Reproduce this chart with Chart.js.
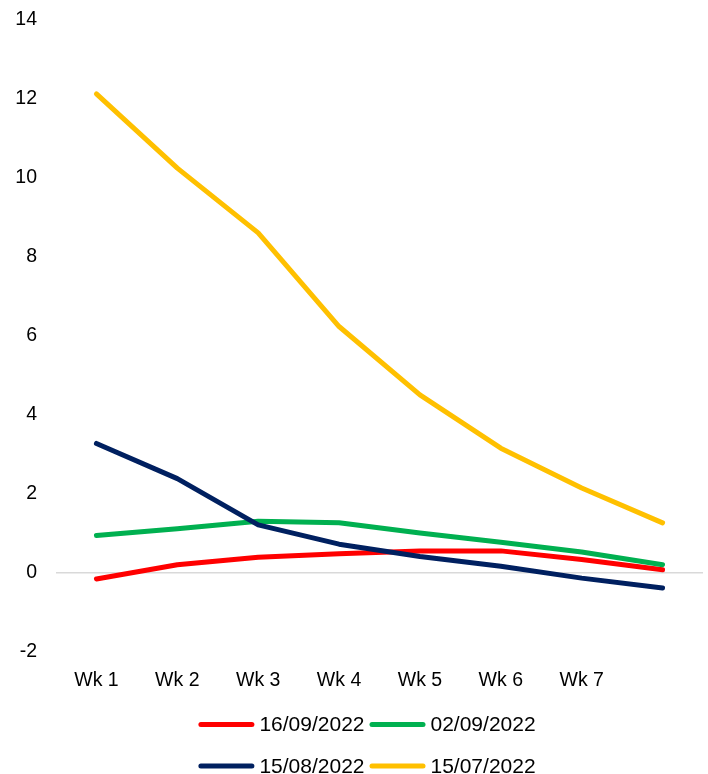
<!DOCTYPE html>
<html>
<head>
<meta charset="utf-8">
<title>Weekly profile by snapshot date</title>
<script src="https://cdn.jsdelivr.net/npm/chart.js@4/dist/chart.umd.min.js"></script>
<style>
  html, body { margin: 0; padding: 0; background: #ffffff; }
  #wrap { width: 708px; height: 774px; position: relative; }
</style>
</head>
<body>
<div id="wrap"><canvas id="chart" width="708" height="774"></canvas></div>
<script>
// Week categories (the last point has no label of its own)
const weeks = ['Wk 1', 'Wk 2', 'Wk 3', 'Wk 4', 'Wk 5', 'Wk 6', 'Wk 7', ''];

// Snapshot series
const seriesNames = ['16/09/2022', '02/09/2022', '15/08/2022', '15/07/2022'];
const sep16 = [-0.15, 0.21, 0.40, 0.49, 0.56, 0.56, 0.34, 0.08];
const sep02 = [0.95, 1.12, 1.31, 1.27, 1.01, 0.78, 0.53, 0.21];
const aug15 = [3.28, 2.39, 1.22, 0.73, 0.42, 0.17, -0.13, -0.38];
const jul15 = [12.13, 10.25, 8.61, 6.24, 4.51, 3.16, 2.15, 1.27];

// Y axis range and tick step
const yMin = -2;
const yMax = 14;
const yStep = 2;

const seriesColors = ['#FF0000', '#00B050', '#002060', '#FFC000'];
const seriesValues = [sep16, sep02, aug15, jul15];

const FONT = '"Liberation Sans", Arial, sans-serif';

// Legend drawn in two rows of two entries, line swatch then label
const twoRowLegend = {
  id: 'twoRowLegend',
  afterDraw(chart) {
    const ctx = chart.ctx;
    const ds = chart.data.datasets;
    const lineLen = 56, gap = 5, colGap = 5, rowY = [724.5, 766];
    const centerX = 367;
    ctx.save();
    ctx.font = '21px ' + FONT;
    ctx.textBaseline = 'middle';
    ctx.textAlign = 'left';
    const textW = ds.map(d => ctx.measureText(d.label).width);
    const colW = [Math.max(textW[0], textW[2]), Math.max(textW[1], textW[3])]
      .map(w => lineLen + gap + w);
    const total = colW[0] + colW[1] + colGap;
    const x0 = centerX - total / 2;
    const colX = [x0, x0 + colW[0] + colGap];
    ds.forEach((d, i) => {
      const x = colX[i % 2];
      const y = rowY[Math.floor(i / 2)];
      ctx.strokeStyle = d.borderColor;
      ctx.lineWidth = 5;
      ctx.lineCap = 'round';
      ctx.beginPath();
      ctx.moveTo(x + 2.5, y);
      ctx.lineTo(x + lineLen - 2.5, y);
      ctx.stroke();
      ctx.fillStyle = '#000000';
      ctx.fillText(d.label, x + lineLen + gap, y + 1);
    });
    ctx.restore();
  }
};

const datasets = seriesNames.map((name, i) => ({
  label: name,
  data: seriesValues[i],
  borderColor: seriesColors[i],
  backgroundColor: seriesColors[i],
  borderWidth: 5,
  borderCapStyle: 'round',
  borderJoinStyle: 'round',
  pointRadius: 0,
  pointHoverRadius: 0,
  tension: 0,
  fill: false,
  order: seriesNames.length - i
}));

new Chart(document.getElementById('chart'), {
  type: 'line',
  data: { labels: weeks, datasets: datasets },
  options: {
    responsive: false,
    animation: false,
    devicePixelRatio: 1,
    layout: { padding: { left: 0, right: 5, top: 20, bottom: 84 } },
    plugins: {
      legend: { display: false },
      tooltip: { enabled: false }
    },
    scales: {
      x: {
        offset: true,
        grid: { display: false, drawTicks: false },
        border: { display: false },
        ticks: {
          color: '#000000',
          padding: 17,
          maxRotation: 0,
          autoSkip: false,
          font: { family: FONT, size: 19.5 }
        },
        afterFit(scale) {
          scale.height = 38;
          scale.paddingLeft = 0;
          scale.paddingRight = 0;
        }
      },
      y: {
        min: yMin,
        max: yMax,
        grid: {
          drawTicks: false,
          lineWidth: 1.5,
          color: c => (c.tick && c.tick.value === 0 ? '#D9D9D9' : 'rgba(0,0,0,0)')
        },
        border: { display: false },
        ticks: {
          stepSize: yStep,
          color: '#000000',
          padding: 19,
          font: { family: FONT, size: 19.5 }
        },
        afterFit(scale) {
          scale.width = 56;
          scale.paddingTop = 0;
          scale.paddingBottom = 0;
        }
      }
    }
  },
  plugins: [twoRowLegend]
});
</script>
</body>
</html>
